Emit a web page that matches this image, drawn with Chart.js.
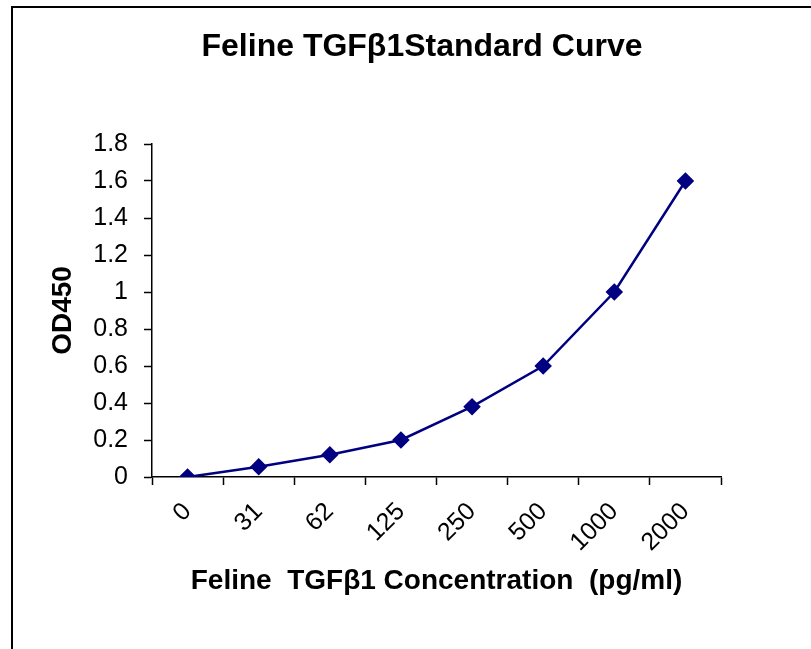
<!DOCTYPE html>
<html>
<head>
<meta charset="utf-8">
<script src="https://cdn.jsdelivr.net/npm/chart.js@4"></script>
<style>
    html, body { margin: 0; padding: 0; background: #fff; overflow: hidden; }
    #frame { position: absolute; left: 11px; top: 6px; width: 900px; height: 700px; border-left: 2px solid #000; border-top: 2px solid #000; }
    #curve { position: absolute; left: 0; top: 0; }
</style>
</head>
<body>
<div id="frame"></div>
<canvas id="curve" width="811" height="649"></canvas>
<script>
// data
const concentrations = ['0', '31', '62', '125', '250', '500', '1000', '2000'];
const od450 = [0, 0.055, 0.12, 0.2, 0.38, 0.6, 1.0, 1.6];

const navy = '#000080';
Chart.defaults.font.family = 'Arial, "Liberation Sans", sans-serif';
Chart.defaults.color = '#000';

new Chart(document.getElementById('curve').getContext('2d'), {
    type: 'line',
    data: {
        labels: concentrations,
        datasets: [{
            data: od450,
            borderColor: navy,
            backgroundColor: navy,
            borderWidth: 2.5,
            pointStyle: 'rectRot',
            pointRadius: 7,
            pointHoverRadius: 7,
            fill: false,
            tension: 0
        }]
    },
    options: {
        responsive: false,
        animation: false,
        layout: { padding: { left: 33, right: 0, top: 0, bottom: 0 } },
        plugins: {
            legend: { display: false },
            tooltip: { enabled: false },
            title: {
                display: true,
                text: 'Feline TGFβ1Standard Curve',
                font: { size: 32, weight: 'bold', lineHeight: 1 },
                padding: { top: 31, bottom: 81 }
            }
        },
        scales: {
            x: {
                offset: true,
                grid: { offset: true, drawOnChartArea: false, color: '#000', tickLength: 8, tickWidth: 1.5 },
                border: { color: '#000', width: 1.5 },
                ticks: { minRotation: 45, maxRotation: 45, padding: 12, font: { size: 25 } },
                title: {
                    display: true,
                    text: 'Feline  TGFβ1 Concentration  (pg/ml)',
                    font: { size: 28, weight: 'bold', lineHeight: 1 },
                    padding: { top: 0, bottom: 54 }
                },
                afterFit: (scale) => { scale.height = 172; }
            },
            y: {
                min: 0,
                max: 1.8,
                grid: { drawOnChartArea: false, color: '#000', tickLength: 8, tickWidth: 1.5 },
                border: { color: '#000', width: 1.5 },
                ticks: { stepSize: 0.2, padding: 16, font: { size: 25 },
                    callback: (v) => Math.round(v * 10) / 10 },
                title: {
                    display: true,
                    text: 'OD450',
                    font: { size: 28, weight: 'bold', lineHeight: 1 },
                    padding: { top: 16, bottom: 0 }
                },
                afterFit: (scale) => { scale.width = 119; }
            },
            // empty right margin so the title centres like the original
            spacer: {
                type: 'linear',
                position: 'right',
                grid: { display: false },
                border: { display: false },
                ticks: { display: false },
                afterFit: (scale) => { scale.width = 90; }
            }
        }
    }
});
</script>
</body>
</html>
